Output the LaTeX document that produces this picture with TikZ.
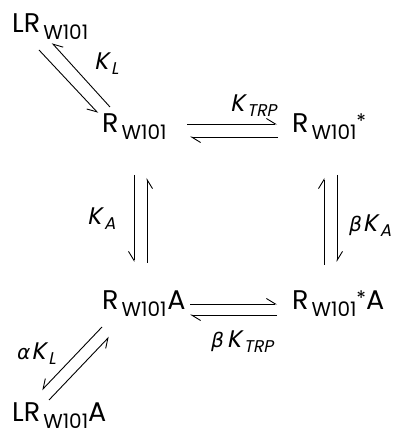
\documentclass[tikz,border=0pt]{standalone}
\usepackage{fontspec}
\setmainfont{Poppins}
\newfontfamily\slfont[FakeSlant=0.2]{Poppins}
\newfontfamily\grkfont[FakeSlant=0.2]{DejaVu Sans}
\usetikzlibrary{arrows.meta}
\newcommand\msz{\fontsize{27}{27}\selectfont}
\newcommand\ssz{\fontsize{20}{20}\selectfont}
\newcommand\wsub{\hspace{3pt}\raisebox{-7pt}{\ssz W101}}
\newcommand\wst{\raisebox{4pt}{\ssz *}}
\newcommand\kk[1]{{\slfont\fontsize{24}{24}\selectfont K}\hspace{2.5pt}\raisebox{-5pt}{\slfont\fontsize{17}{17}\selectfont #1}}
\newcommand\gk[1]{{\grkfont\fontsize{20}{20}\selectfont #1}\hspace{2pt}}
\begin{document}
\begin{tikzpicture}[x=1pt,y=1pt,
  txt/.style={anchor=base west, inner sep=0pt, font=\msz},
  lab/.style={anchor=base west, inner sep=0pt},
  hl/.style={-{Straight Barb[harpoon,length=9pt,width=11pt]}, line width=0.9pt},
  hr/.style={-{Straight Barb[harpoon,swap,length=9pt,width=11pt]}, line width=0.9pt}]
\useasboundingbox (0,0) rectangle (397,432);
% species
\node[txt] (LR) at (12,399) {LR\wsub};
\node[txt] (R) at (102,299) {R\wsub};
\node[txt] (Rs) at (292,299) {R\wsub\wst};
\node[txt] (RA) at (102,122) {R\wsub\hspace{1pt}A};
\node[txt] (RsA) at (292,122) {R\wsub\wst A};
\node[txt] (LRA) at (12,10) {LR\wsub A};
% arrow end points
\coordinate (th1a) at (187,308); \coordinate (th1b) at (277,308);
\coordinate (th2a) at (278,295); \coordinate (th2b) at (190,295);
\coordinate (lv1a) at (134,257); \coordinate (lv1b) at (134,170);
\coordinate (lv2a) at (147,169); \coordinate (lv2b) at (147,254);
\coordinate (rv1a) at (324,167); \coordinate (rv1b) at (324,254);
\coordinate (rv2a) at (337,257); \coordinate (rv2b) at (337,170);
\coordinate (bh1a) at (190,128); \coordinate (bh1b) at (277,128);
\coordinate (bh2a) at (277,117); \coordinate (bh2b) at (190,117);
\coordinate (td1a) at (39,382); \coordinate (td1b) at (98,319);
\coordinate (td2a) at (110,325); \coordinate (td2b) at (52,389);
\coordinate (bd1a) at (102,105); \coordinate (bd1b) at (42,42);
\coordinate (bd2a) at (49,32); \coordinate (bd2b) at (109,95);
% arrows
\draw[hl] (th1a) -- (th1b);
\draw[hl] (th2a) -- (th2b);
\draw[hr] (lv1a) -- (lv1b);
\draw[hr] (lv2a) -- (lv2b);
\draw[hl] (rv1a) -- (rv1b);
\draw[hl] (rv2a) -- (rv2b);
\draw[hl] (bh1a) -- (bh1b);
\draw[hl] (bh2a) -- (bh2b);
\draw[hr] (td1a) -- (td1b);
\draw[hr] (td2a) -- (td2b);
\draw[hr] (bd1a) -- (bd1b);
\draw[hr] (bd2a) -- (bd2b);
% labels
\node[lab] (kl) at (94,362) {\kk{L}};
\node[lab] (ktrp) at (230,320) {\kk{TRP}};
\node[lab] (ka) at (87,207) {\kk{A}};
\node[lab] (bka) at (348,200) {\gk{β}\kk{A}};
\node[lab] (bktrp) at (210,84) {\gk{β}\hspace{2pt}\kk{TRP}};
\node[lab] (akl) at (16,72) {\gk{α}\kk{L}};
\end{tikzpicture}
\end{document}
